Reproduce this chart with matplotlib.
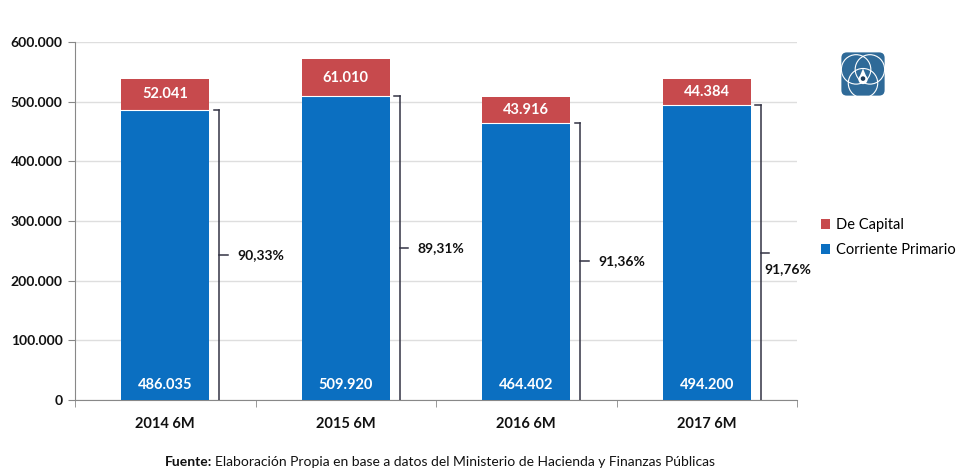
import matplotlib
matplotlib.use("Agg")
import matplotlib.pyplot as plt
import numpy as np
from matplotlib.patches import FancyBboxPatch, Circle, Polygon

categories = ["2014 6M", "2015 6M", "2016 6M", "2017 6M"]
corriente = [486035, 509920, 464402, 494200]
capital = [52041, 61010, 43916, 44384]
pct_labels = ["90,33%", "89,31%", "91,36%", "91,76%"]
yticks = [0, 100000, 200000, 300000, 400000, 500000, 600000]
ytick_labels = ["0", "100.000", "200.000", "300.000", "400.000", "500.000", "600.000"]

BLUE = "#0B6FC1"
RED = "#C74A4D"
FONT = ["Lato", "DejaVu Sans"]

def fmt(v):
    return f"{v:,}".replace(",", ".")

fig = plt.figure(figsize=(9.57, 4.75), dpi=100)
ax = fig.add_axes([75/957, 1-400/475, 722/957, 358/475])

x = np.arange(len(categories))
ax.bar(x, corriente, width=0.49, color=BLUE, edgecolor="none", zorder=3, label="Corriente Primario")
ax.bar(x, capital, width=0.49, bottom=corriente, color=RED, edgecolor="none", zorder=3, label="De Capital")
for i in x:
    ax.plot([i-0.245, i+0.245], [corriente[i], corriente[i]], color="white", lw=0.8, zorder=4)

ax.set_xlim(-0.5, len(categories)-0.5)
ax.set_ylim(0, 600000)
ax.set_yticks(yticks)
ax.set_yticklabels(ytick_labels, fontsize=10, fontweight="bold", family=FONT, color="#111111")
ax.set_xticks(x)
ax.set_xticklabels(categories, fontsize=10.5, fontweight="bold", family=FONT, color="#111111")
ax.set_xticks(np.arange(len(categories)+1) - 0.5, minor=True)
ax.tick_params(axis="x", which="major", length=0, pad=12)
ax.tick_params(axis="x", which="minor", length=5, color="#888888")
ax.tick_params(axis="y", length=5, color="#888888", pad=4)
ax.grid(axis="y", color="#dedede", lw=1, zorder=0)
for s in ["top", "right"]:
    ax.spines[s].set_visible(False)
ax.spines["left"].set_color("#888888")
ax.spines["bottom"].set_color("#888888")

for i in x:
    ax.text(i, corriente[i] + capital[i]/2, fmt(capital[i]), ha="center", va="center",
            color="white", fontsize=10.5, fontweight="bold", family=FONT, zorder=5)
    ax.text(i, 25000, fmt(corriente[i]), ha="center", va="center",
            color="white", fontsize=10.5, fontweight="bold", family=FONT, zorder=5)
    bx = i + 0.3
    ax.plot([bx, bx], [0, corriente[i]], color="#333344", lw=1.1, zorder=4)
    ax.plot([bx-0.03, bx], [corriente[i], corriente[i]], color="#333344", lw=1.1, zorder=4)
    mid = corriente[i]/2
    ax.plot([bx, bx+0.045], [mid, mid], color="#333344", lw=1.1, zorder=4)
    if i == len(categories)-1:
        ax.text(bx+0.02, mid-28000, pct_labels[i], ha="left", va="center",
                fontsize=10, fontweight="bold", family=FONT, color="#111111")
    else:
        ax.text(bx+0.1, mid, pct_labels[i], ha="left", va="center",
                fontsize=10, fontweight="bold", family=FONT, color="#111111")

handles, labels = ax.get_legend_handles_labels()
fig.legend(handles[::-1], labels[::-1], loc="upper left", bbox_to_anchor=(808/957, 1-205/475),
           frameon=False, handlelength=0.6, handleheight=0.6,
           handletextpad=0.4, labelspacing=0.75, prop={"family": FONT, "size": 10.5})

t1 = fig.text(165/957, 1-462/475, "Fuente:", ha="left", va="center", fontsize=10,
              fontweight="bold", family=FONT, color="#111111")
fig.canvas.draw()
bb = t1.get_window_extent()
fig.text((bb.x1 + 3)/957, 1-462/475,
         "Elaboración Propia en base a datos del Ministerio de Hacienda y Finanzas Públicas",
         ha="left", va="center", fontsize=10, family=FONT, color="#111111")

# logo
lax = fig.add_axes([840/957, 1-97/475, 46/957, 46/475])
lax.set_xlim(0, 1); lax.set_ylim(0, 1); lax.axis("off")
lax.add_patch(FancyBboxPatch((0.03, 0.03), 0.94, 0.94, boxstyle="round,pad=0,rounding_size=0.12",
                             fc="#2F6A98", ec="none"))
for cx, cy in [(0.35, 0.6), (0.65, 0.6), (0.5, 0.3)]:
    lax.add_patch(Circle((cx, cy), 0.32, fc="none", ec="white", lw=0.8))
lax.add_patch(Polygon([[0.5, 0.62], [0.4, 0.38], [0.6, 0.38]], fc="white", ec="none"))
lax.add_patch(Circle((0.5, 0.38), 0.1, fc="white", ec="none"))
lax.add_patch(Circle((0.5, 0.4), 0.05, fc="#1d3c5a", ec="none"))

fig.savefig("out.png", dpi=100, facecolor="white")
